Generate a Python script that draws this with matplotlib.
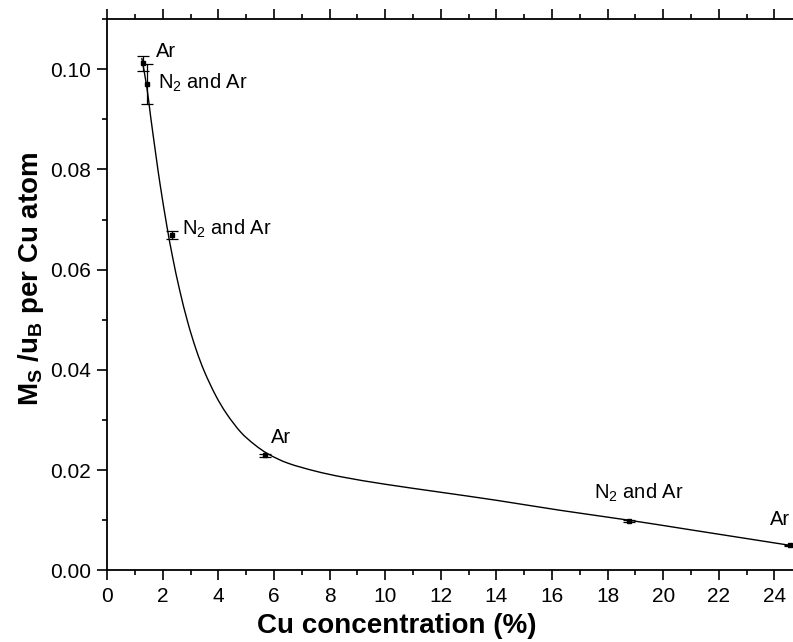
import numpy as np
import matplotlib
matplotlib.use("Agg")
import matplotlib.pyplot as plt
from matplotlib.ticker import MultipleLocator, FormatStrFormatter
from matplotlib.path import Path
from matplotlib.patches import PathPatch

plt.rcParams['font.family'] = ['Liberation Sans', 'DejaVu Sans']
plt.rcParams['mathtext.fontset'] = 'custom'
plt.rcParams['mathtext.rm'] = 'Liberation Sans'
plt.rcParams['mathtext.it'] = 'Liberation Sans:italic'
plt.rcParams['mathtext.bf'] = 'Liberation Sans:bold'
plt.rcParams['mathtext.default'] = 'regular'

# Measured saturation magnetisation per Cu atom
cu_conc = [1.27, 1.42, 2.32, 5.67, 18.78, 24.58]
ms_per_cu = [0.1012, 0.0970, 0.0670, 0.0230, 0.0099, 0.0050]
ms_err = [0.0015, 0.0040, 0.0008, 0.0003, 0.0002, 0.0001]
gas = ['Ar', 'N$_2$ and Ar', 'N$_2$ and Ar', 'Ar', 'N$_2$ and Ar', 'Ar']

# Label anchor positions (left edge, baseline)
label_x = [1.75, 1.81, 2.68, 5.88, 17.52, 23.84]
label_y = [0.1025, 0.0961, 0.0669, 0.0254, 0.0143, 0.0090]

# Fitted trend curve
fit_x = [1.24, 1.42, 1.56, 1.75, 1.90, 2.14, 2.35, 2.60, 2.90, 3.20, 3.50,
         3.90, 4.30, 4.80, 5.30, 5.80, 6.50, 7.50, 8.50, 10.0, 12.0, 14.0,
         16.3, 18.8, 21.0, 24.58]
fit_y = [0.1022, 0.0965, 0.0905, 0.0828, 0.0770, 0.0688, 0.0625, 0.0560,
         0.0494, 0.0440, 0.0396, 0.0349, 0.0312, 0.0276, 0.0251, 0.0232,
         0.0214, 0.0198, 0.0186, 0.0172, 0.0156, 0.0140, 0.0120, 0.0100,
         0.0081, 0.0050]


def smooth_path(xs, ys, transform):
    """Catmull-Rom curve through the given points, drawn in display space."""
    pts = transform.transform(np.column_stack([xs, ys]))
    verts = [pts[0]]
    codes = [Path.MOVETO]
    n = len(pts)
    for i in range(n - 1):
        p0 = pts[max(i - 1, 0)]
        p1 = pts[i]
        p2 = pts[i + 1]
        p3 = pts[min(i + 2, n - 1)]
        c1 = p1 + (p2 - p0) / 6.0
        c2 = p2 - (p3 - p1) / 6.0
        verts += [c1, c2, p2]
        codes += [Path.CURVE4] * 3
    return Path(verts, codes)


fig = plt.figure(figsize=(7.93, 6.42), dpi=100)
ax = fig.add_axes([0.1353, 0.1114, 0.8647, 0.859])

ax.set_xlim(0, 24.67)
ax.set_ylim(0, 0.110)

ax.errorbar(cu_conc, ms_per_cu, yerr=ms_err, fmt='s', color='black',
            ms=3.5, elinewidth=0.9, capsize=4, capthick=0.9, clip_on=False)

for lx, ly, t in zip(label_x, label_y, gas):
    ax.text(lx, ly, t, fontsize=14.5, ha='left', va='baseline')

ax.xaxis.set_major_locator(MultipleLocator(2))
ax.xaxis.set_minor_locator(MultipleLocator(1))
ax.yaxis.set_major_locator(MultipleLocator(0.02))
ax.yaxis.set_minor_locator(MultipleLocator(0.01))
ax.yaxis.set_major_formatter(FormatStrFormatter('%.2f'))

ax.spines['right'].set_visible(False)
for s in ['left', 'bottom', 'top']:
    ax.spines[s].set_linewidth(1.3)

ax.tick_params(which='both', direction='out', top=True, bottom=True,
               left=True, right=False, labeltop=False, width=1.2,
               labelsize=15)
ax.tick_params(which='major', length=7)
ax.tick_params(which='minor', length=3.5)
ax.tick_params(axis='x', which='major', pad=5)
ax.tick_params(axis='y', which='major', pad=5)

ax.set_xlabel('Cu concentration (%)', fontsize=20, fontweight='bold')
ax.xaxis.set_label_coords(0.4218, -0.078)
ax.set_ylabel(r'M$_\mathbf{S}$ /u$_\mathbf{B}$ per Cu atom', fontsize=20,
              fontweight='bold')
ax.yaxis.set_label_coords(-0.090, 0.529)

fig.canvas.draw()
curve = PathPatch(smooth_path(fit_x, fit_y, ax.transData), fill=False,
                  edgecolor='black', lw=1.0)
curve.set_transform(matplotlib.transforms.IdentityTransform())
ax.add_artist(curve)

fig.savefig('out.png', dpi=100)
